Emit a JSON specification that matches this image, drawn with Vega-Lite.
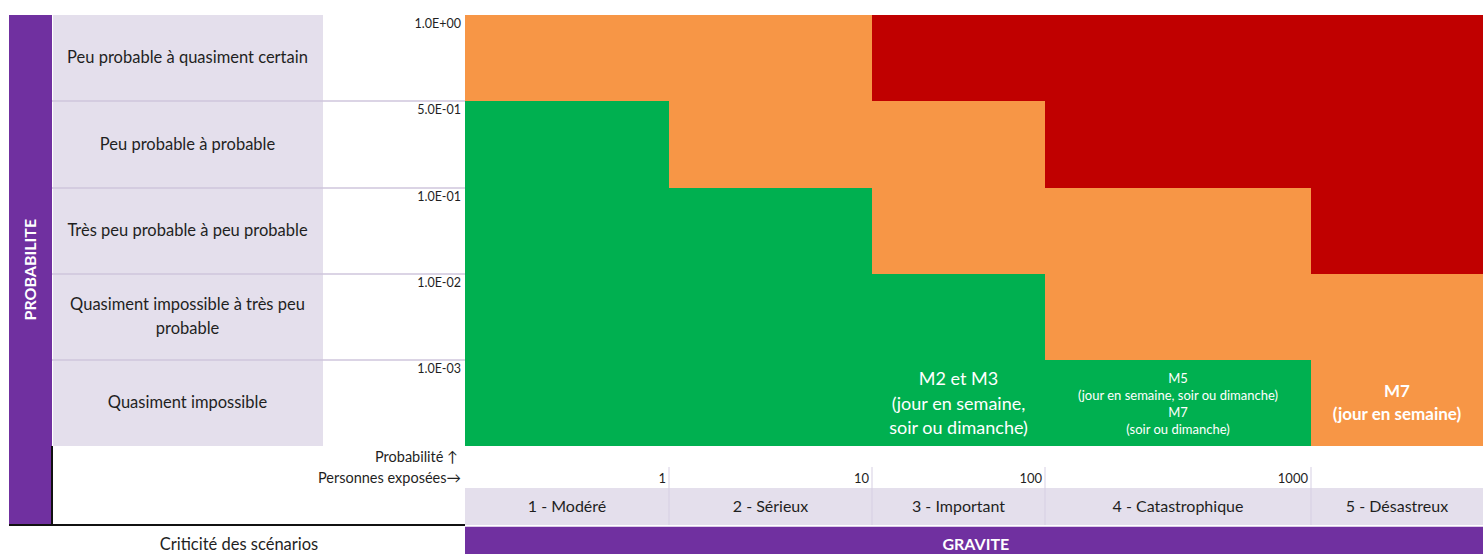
{
  "$schema": "https://vega.github.io/schema/vega-lite/v6.json",
  "width": 1483,
  "height": 554,
  "padding": 0,
  "autosize": {"type": "none"},
  "config": {"view": {"stroke": null}, "font": "Lato", "text": {"font": "Lato"}},
  "datasets": {
    "cells": [
      {"probabilite": "Peu probable à quasiment certain", "gravite": "1 - Modéré", "r0": 0, "r1": 1, "c0": 0, "c1": 1, "niveau": "tolérable"},
      {"probabilite": "Peu probable à quasiment certain", "gravite": "2 - Sérieux", "r0": 0, "r1": 1, "c0": 1, "c1": 2, "niveau": "tolérable"},
      {"probabilite": "Peu probable à quasiment certain", "gravite": "3 - Important", "r0": 0, "r1": 1, "c0": 2, "c1": 3, "niveau": "inacceptable"},
      {"probabilite": "Peu probable à quasiment certain", "gravite": "4 - Catastrophique", "r0": 0, "r1": 1, "c0": 3, "c1": 4, "niveau": "inacceptable"},
      {"probabilite": "Peu probable à quasiment certain", "gravite": "5 - Désastreux", "r0": 0, "r1": 1, "c0": 4, "c1": 5, "niveau": "inacceptable"},
      {"probabilite": "Peu probable à probable", "gravite": "1 - Modéré", "r0": 1, "r1": 2, "c0": 0, "c1": 1, "niveau": "acceptable"},
      {"probabilite": "Peu probable à probable", "gravite": "2 - Sérieux", "r0": 1, "r1": 2, "c0": 1, "c1": 2, "niveau": "tolérable"},
      {"probabilite": "Peu probable à probable", "gravite": "3 - Important", "r0": 1, "r1": 2, "c0": 2, "c1": 3, "niveau": "tolérable"},
      {"probabilite": "Peu probable à probable", "gravite": "4 - Catastrophique", "r0": 1, "r1": 2, "c0": 3, "c1": 4, "niveau": "inacceptable"},
      {"probabilite": "Peu probable à probable", "gravite": "5 - Désastreux", "r0": 1, "r1": 2, "c0": 4, "c1": 5, "niveau": "inacceptable"},
      {"probabilite": "Très peu probable à peu probable", "gravite": "1 - Modéré", "r0": 2, "r1": 3, "c0": 0, "c1": 1, "niveau": "acceptable"},
      {"probabilite": "Très peu probable à peu probable", "gravite": "2 - Sérieux", "r0": 2, "r1": 3, "c0": 1, "c1": 2, "niveau": "acceptable"},
      {"probabilite": "Très peu probable à peu probable", "gravite": "3 - Important", "r0": 2, "r1": 3, "c0": 2, "c1": 3, "niveau": "tolérable"},
      {"probabilite": "Très peu probable à peu probable", "gravite": "4 - Catastrophique", "r0": 2, "r1": 3, "c0": 3, "c1": 4, "niveau": "tolérable"},
      {"probabilite": "Très peu probable à peu probable", "gravite": "5 - Désastreux", "r0": 2, "r1": 3, "c0": 4, "c1": 5, "niveau": "inacceptable"},
      {"probabilite": "Quasiment impossible à très peu probable", "gravite": "1 - Modéré", "r0": 3, "r1": 4, "c0": 0, "c1": 1, "niveau": "acceptable"},
      {"probabilite": "Quasiment impossible à très peu probable", "gravite": "2 - Sérieux", "r0": 3, "r1": 4, "c0": 1, "c1": 2, "niveau": "acceptable"},
      {"probabilite": "Quasiment impossible à très peu probable", "gravite": "3 - Important", "r0": 3, "r1": 4, "c0": 2, "c1": 3, "niveau": "acceptable"},
      {"probabilite": "Quasiment impossible à très peu probable", "gravite": "4 - Catastrophique", "r0": 3, "r1": 4, "c0": 3, "c1": 4, "niveau": "tolérable"},
      {"probabilite": "Quasiment impossible à très peu probable", "gravite": "5 - Désastreux", "r0": 3, "r1": 4, "c0": 4, "c1": 5, "niveau": "tolérable"},
      {"probabilite": "Quasiment impossible", "gravite": "1 - Modéré", "r0": 4, "r1": 5, "c0": 0, "c1": 1, "niveau": "acceptable"},
      {"probabilite": "Quasiment impossible", "gravite": "2 - Sérieux", "r0": 4, "r1": 5, "c0": 1, "c1": 2, "niveau": "acceptable"},
      {"probabilite": "Quasiment impossible", "gravite": "3 - Important", "r0": 4, "r1": 5, "c0": 2, "c1": 3, "niveau": "acceptable"},
      {"probabilite": "Quasiment impossible", "gravite": "4 - Catastrophique", "r0": 4, "r1": 5, "c0": 3, "c1": 4, "niveau": "acceptable"},
      {"probabilite": "Quasiment impossible", "gravite": "5 - Désastreux", "r0": 4, "r1": 5, "c0": 4, "c1": 5, "niveau": "tolérable"}
    ],
    "rows": [
      {"label": "Peu probable à quasiment certain", "seuil": "1.0E+00", "r0": 0, "r1": 1, "rc": 0.5, "lignes": 1},
      {"label": "Peu probable à probable", "seuil": "5.0E-01", "r0": 1, "r1": 2, "rc": 1.5, "lignes": 1},
      {"label": "Très peu probable à peu probable", "seuil": "1.0E-01", "r0": 2, "r1": 3, "rc": 2.5, "lignes": 1},
      {"label": "Quasiment impossible à très peu\nprobable", "seuil": "1.0E-02", "r0": 3, "r1": 4, "rc": 3.5, "lignes": 2},
      {"label": "Quasiment impossible", "seuil": "1.0E-03", "r0": 4, "r1": 5, "rc": 4.5, "lignes": 1}
    ],
    "cols": [
      {"label": "1 - Modéré", "c0": 0, "c1": 1, "cc": 0.5, "personnes": "1"},
      {"label": "2 - Sérieux", "c0": 1, "c1": 2, "cc": 1.5, "personnes": "10"},
      {"label": "3 - Important", "c0": 2, "c1": 3, "cc": 2.5, "personnes": "100"},
      {"label": "4 - Catastrophique", "c0": 3, "c1": 4, "cc": 3.5, "personnes": "1000"},
      {"label": "5 - Désastreux", "c0": 4, "c1": 5, "cc": 4.5, "personnes": ""}
    ]
  },
  "encoding": {
    "x": {"type": "quantitative", "axis": null, "scale": {"domain": [-3, -2, -1, 0, 1, 2, 3, 4, 5], "range": [9, 52, 323, 465, 669, 872, 1045, 1311, 1483], "nice": false, "zero": false}},
    "y": {"type": "quantitative", "axis": null, "scale": {"domain": [0, 1, 2, 3, 4, 5, 6, 7, 8, 9], "range": [15, 101, 188, 274, 360, 446, 467, 488, 525, 554], "nice": false, "zero": false}}
  },
  "layer": [
    {
      "data": {"values": [{"x0": -3, "x1": -2, "y0": 0, "y1": 8}, {"x0": 0, "x1": 5, "y0": 8.06, "y1": 9}]},
      "mark": {"type": "rect", "color": "#7030A0"},
      "encoding": {"x": {"field": "x0"}, "x2": {"field": "x1"}, "y": {"field": "y0"}, "y2": {"field": "y1"}}
    },
    {
      "data": {"name": "rows"},
      "mark": {"type": "rect", "color": "#E4DFEC"},
      "encoding": {"x": {"datum": -1.996}, "x2": {"datum": -1}, "y": {"field": "r0"}, "y2": {"field": "r1"}}
    },
    {
      "data": {"name": "cols"},
      "mark": {"type": "rect", "color": "#E4DFEC"},
      "encoding": {"x": {"field": "c0"}, "x2": {"field": "c1"}, "y": {"datum": 7}, "y2": {"datum": 8}}
    },
    {
      "data": {"name": "cells"},
      "mark": {"type": "rect"},
      "encoding": {
        "x": {"field": "c0"}, "x2": {"field": "c1"}, "y": {"field": "r0"}, "y2": {"field": "r1"},
        "color": {"field": "niveau", "type": "nominal", "legend": null, "scale": {"domain": ["acceptable", "tolérable", "inacceptable"], "range": ["#00B050", "#F79646", "#C00000"]}}
      }
    },
    {
      "data": {"values": [{"r": 1}, {"r": 2}, {"r": 3}, {"r": 4}]},
      "mark": {"type": "rule", "color": "#CFC6DD", "strokeWidth": 1.5},
      "encoding": {"x": {"datum": -2}, "x2": {"datum": 0}, "y": {"field": "r"}}
    },
    {
      "data": {"values": [{"c": 1}, {"c": 2}, {"c": 3}, {"c": 4}]},
      "mark": {"type": "rule", "color": "#D6CFE3", "strokeWidth": 1},
      "encoding": {"x": {"field": "c"}, "y": {"datum": 6}, "y2": {"datum": 8}}
    },
    {
      "data": {"values": [{"x0": -3, "x1": 0, "y0": 8, "y1": 8}, {"x0": -2, "x1": -2, "y0": 5, "y1": 8}]},
      "mark": {"type": "rule", "color": "#111111", "strokeWidth": 2},
      "encoding": {"x": {"field": "x0"}, "x2": {"field": "x1"}, "y": {"field": "y0"}, "y2": {"field": "y1"}}
    },
    {
      "data": {"name": "rows"},
      "transform": [{"filter": "datum.lignes == 1"}],
      "mark": {"type": "text", "fontSize": 16.5, "color": "#1F1F1F", "align": "center", "baseline": "middle"},
      "encoding": {"x": {"datum": -1.5}, "y": {"field": "rc"}, "text": {"field": "label"}}
    },
    {
      "data": {"name": "rows"},
      "transform": [{"filter": "datum.lignes == 2"}],
      "mark": {"type": "text", "fontSize": 16.5, "color": "#1F1F1F", "align": "center", "baseline": "middle", "lineBreak": "\n", "lineHeight": 24, "dy": -12},
      "encoding": {"x": {"datum": -1.5}, "y": {"field": "rc"}, "text": {"field": "label"}}
    },
    {
      "data": {"name": "rows"},
      "mark": {"type": "text", "fontSize": 12.5, "color": "#1F1F1F", "align": "right", "baseline": "top", "dx": -4, "dy": 3},
      "encoding": {"x": {"datum": 0}, "y": {"field": "r0"}, "text": {"field": "seuil"}}
    },
    {
      "data": {"name": "cols"},
      "mark": {"type": "text", "fontSize": 16, "color": "#1F1F1F", "align": "center", "baseline": "middle"},
      "encoding": {"x": {"field": "cc"}, "y": {"datum": 7.5}, "text": {"field": "label"}}
    },
    {
      "data": {"name": "cols"},
      "mark": {"type": "text", "fontSize": 13, "color": "#1F1F1F", "align": "right", "baseline": "middle", "dx": -3},
      "encoding": {"x": {"field": "c1"}, "y": {"datum": 6.57}, "text": {"field": "personnes"}}
    },
    {
      "data": {"values": [{"label": "Probabilité ↑", "y": 5.57}]},
      "mark": {"type": "text", "fontSize": 14.5, "color": "#1F1F1F", "align": "right", "baseline": "middle", "dx": -7},
      "encoding": {"x": {"datum": 0}, "y": {"field": "y"}, "text": {"field": "label"}}
    },
    {
      "data": {"values": [{"label": "Personnes exposées→", "y": 6.57}]},
      "mark": {"type": "text", "fontSize": 14.5, "color": "#1F1F1F", "align": "right", "baseline": "middle", "dx": -4},
      "encoding": {"x": {"datum": 0}, "y": {"field": "y"}, "text": {"field": "label"}}
    },
    {
      "data": {"values": [{"label": "PROBABILITE"}]},
      "mark": {"type": "text", "fontSize": 16, "fontWeight": "bold", "color": "#FFFFFF", "align": "center", "baseline": "middle", "angle": 270},
      "encoding": {"x": {"datum": -2.5}, "y": {"datum": 2.95}, "text": {"field": "label"}}
    },
    {
      "data": {"values": [{"label": "GRAVITE"}]},
      "mark": {"type": "text", "fontSize": 16, "fontWeight": "bold", "color": "#FFFFFF", "align": "center", "baseline": "middle"},
      "encoding": {"x": {"datum": 2.6}, "y": {"datum": 8.69}, "text": {"field": "label"}}
    },
    {
      "data": {"values": [{"label": "Criticité des scénarios"}]},
      "mark": {"type": "text", "fontSize": 16.5, "color": "#1F1F1F", "align": "center", "baseline": "middle"},
      "encoding": {"x": {"datum": -1.31}, "y": {"datum": 8.69}, "text": {"field": "label"}}
    },
    {
      "data": {"values": [{"label": "M2 et M3\n(jour en semaine,\nsoir ou dimanche)", "c": 2.5, "r": 4.5}]},
      "mark": {"type": "text", "fontSize": 18, "color": "#FFFFFF", "align": "center", "baseline": "middle", "lineBreak": "\n", "lineHeight": 24.5, "dy": -23},
      "encoding": {"x": {"field": "c"}, "y": {"field": "r"}, "text": {"field": "label"}}
    },
    {
      "data": {"values": [{"label": "M5\n(jour en semaine, soir ou dimanche)\nM7\n(soir ou dimanche)", "c": 3.5, "r": 4.5}]},
      "mark": {"type": "text", "fontSize": 13, "color": "#FFFFFF", "align": "center", "baseline": "middle", "lineBreak": "\n", "lineHeight": 17, "dy": -24},
      "encoding": {"x": {"field": "c"}, "y": {"field": "r"}, "text": {"field": "label"}}
    },
    {
      "data": {"values": [{"label": "M7\n(jour en semaine)", "c": 4.5, "r": 4.5}]},
      "mark": {"type": "text", "fontSize": 17, "fontWeight": "bold", "color": "#FFFFFF", "align": "center", "baseline": "middle", "lineBreak": "\n", "lineHeight": 23, "dy": -11},
      "encoding": {"x": {"field": "c"}, "y": {"field": "r"}, "text": {"field": "label"}}
    }
  ]
}
